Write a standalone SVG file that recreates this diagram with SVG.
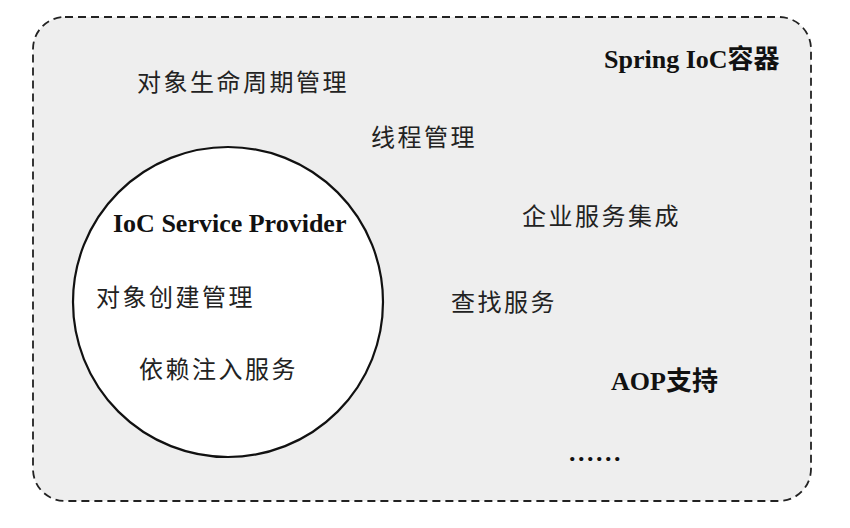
<svg xmlns="http://www.w3.org/2000/svg" width="850" height="528" viewBox="0 0 850 528">
<style>
.cjk{font-family:"Noto Sans CJK SC","Liberation Serif",sans-serif;font-size:24px;letter-spacing:2.5px;fill:#222222}
.bold{font-family:"Liberation Serif","Noto Sans CJK SC",serif;font-size:26px;font-weight:bold;fill:#111}
</style>
<rect width="850" height="528" fill="#ffffff"/>
<g id="container">
<rect x="33" y="17" width="778" height="484" rx="32" ry="32" fill="#eeeeee" stroke="#222222" stroke-width="1.8" stroke-dasharray="8 5"/>
<text class="bold" x="604" y="68">Spring IoC容器</text>
</g>
<g id="lifecycle"><text class="cjk" x="137" y="91">对象生命周期管理</text></g>
<g id="thread"><text class="cjk" x="371" y="146">线程管理</text></g>
<g id="enterprise"><text class="cjk" x="522" y="225">企业服务集成</text></g>
<g id="lookup"><text class="cjk" x="451" y="311">查找服务</text></g>
<g id="aop"><text class="bold" x="611" y="390">AOP支持</text></g>
<g id="more"><text class="bold" x="569" y="461" style="letter-spacing:2.5px">......</text></g>
<g id="provider">
<circle cx="228" cy="302" r="155" fill="#ffffff" stroke="#111111" stroke-width="2.2"/>
<text class="bold" x="113" y="232">IoC Service Provider</text>
<text class="cjk" x="96" y="306">对象创建管理</text>
<text class="cjk" x="139" y="378">依赖注入服务</text>
</g>
<g id="connectors"></g>
</svg>
